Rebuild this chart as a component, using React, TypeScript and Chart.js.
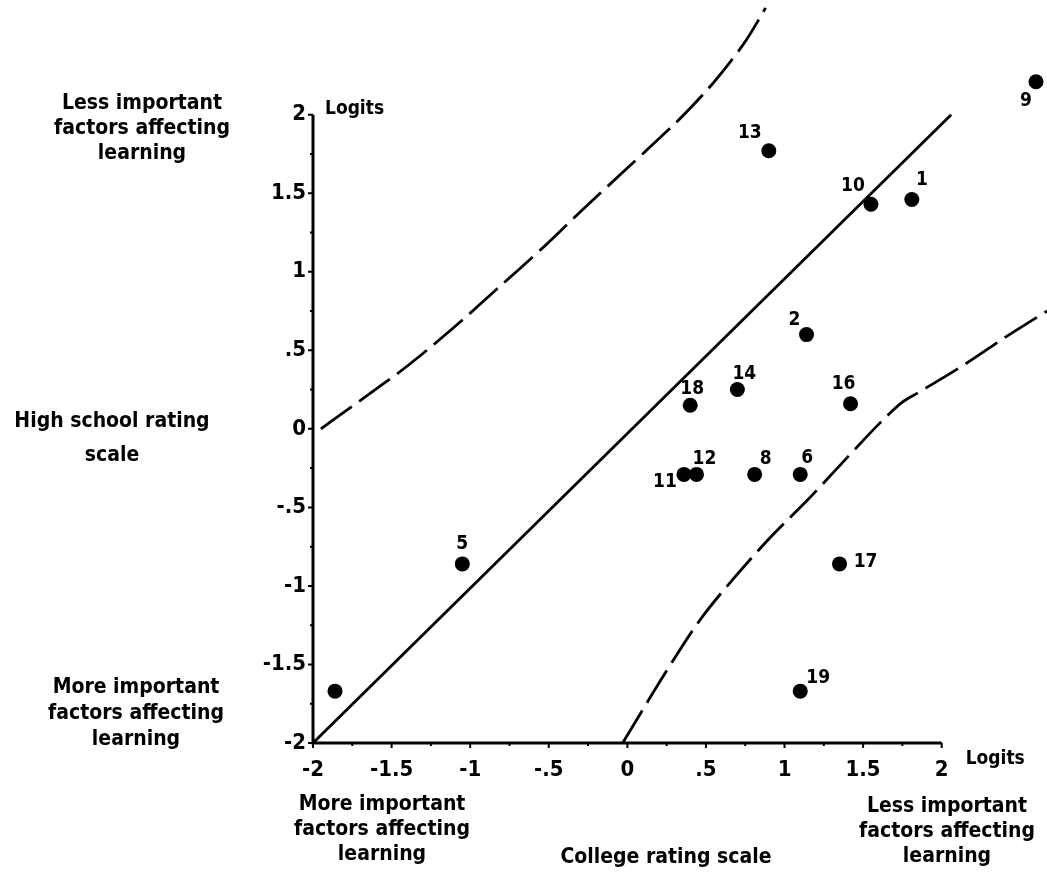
import React, { useEffect, useRef } from "react";
import { Chart, registerables } from "chart.js";

Chart.register(...registerables);

// Item numbers and their rating positions (logits)
const itemLabels = ["1", "2", "5", "6", "8", "9", "10", "11", "12", "13", "14", "16", "17", "18", "19", ""];
const collegeLogits = [1.81, 1.14, -1.05, 1.10, 0.81, 2.60, 1.55, 0.36, 0.44, 0.90, 0.70, 1.42, 1.35, 0.40, 1.10, -1.86];
const highSchoolLogits = [1.46, 0.60, -0.86, -0.29, -0.29, 2.21, 1.43, -0.29, -0.29, 1.77, 0.25, 0.16, -0.86, 0.15, -1.67, -1.67];

// Identity line
const identityX = [-2, 2.06];
const identityY = [-2, 2.0];

// Upper control band (dashed)
const upperBandX = [-1.95, -1.70, -1.40, -1.11, -0.83, -0.53, -0.28, 0.0, 0.32, 0.51, 0.65, 0.76, 0.88];
const upperBandY = [0.0, 0.18, 0.40, 0.64, 0.89, 1.16, 1.40, 1.66, 1.96, 2.16, 2.33, 2.48, 2.68];

// Lower control band (dashed)
const lowerBandX = [-0.03, 0.25, 0.46, 0.67, 0.93, 1.14, 1.42, 1.60, 1.75, 1.85, 2.13, 2.40, 2.67];
const lowerBandY = [-2.0, -1.54, -1.22, -0.96, -0.67, -0.46, -0.16, 0.03, 0.17, 0.23, 0.40, 0.58, 0.75];

// Tick values
const tickValues = [-2, -1.5, -1, -0.5, 0, 0.5, 1, 1.5, 2];
const minorTickValues = [-1.75, -1.25, -0.75, -0.25, 0.25, 0.75, 1.25, 1.75];

// Label offsets (pixels) for item numbers
const labelOffsets: Record<string, [number, number]> = {
  "1": [10, -19],
  "2": [-12, -15],
  "5": [0, -20],
  "6": [7, -16],
  "8": [11, -15],
  "9": [-10, 19],
  "10": [-18, -18],
  "11": [-19, 8],
  "12": [8, -15],
  "13": [-19, -18],
  "14": [7, -16],
  "16": [-7, -20],
  "17": [26, -2],
  "18": [2, -16],
  "19": [18, -13],
};

const FONT = '"DejaVu Sans Condensed", "DejaVu Sans", sans-serif';

function fmtTick(v: number): string {
  if (v === 0) return "0";
  const a = Math.abs(v);
  const s = a < 1 ? String(a).replace(/^0/, "") : String(a);
  return (v < 0 ? "-" : "") + s;
}

const zip = (xs: number[], ys: number[]) => xs.map((x, i) => ({ x, y: ys[i] }));

const overlayPlugin = {
  id: "overlay",
  afterDraw(chart: any) {
    const ctx = chart.ctx as CanvasRenderingContext2D;
    const xs = chart.scales.x;
    const ys = chart.scales.y;
    const x0 = xs.getPixelForValue(-2);
    const x1 = xs.getPixelForValue(2);
    const y0 = ys.getPixelForValue(-2);
    const y1 = ys.getPixelForValue(2);
    ctx.save();
    ctx.strokeStyle = "#000";
    ctx.fillStyle = "#000";
    ctx.lineWidth = 3;
    ctx.beginPath();
    ctx.moveTo(x0, y1);
    ctx.lineTo(x0, y0);
    ctx.lineTo(x1, y0);
    ctx.stroke();
    ctx.lineWidth = 2;
    ctx.beginPath();
    tickValues.forEach((v) => {
      const py = ys.getPixelForValue(v);
      ctx.moveTo(x0 - 5, py);
      ctx.lineTo(x0, py);
      const px = xs.getPixelForValue(v);
      ctx.moveTo(px, y0);
      ctx.lineTo(px, y0 + 5);
    });
    minorTickValues.forEach((v) => {
      const py = ys.getPixelForValue(v);
      ctx.moveTo(x0 - 3, py);
      ctx.lineTo(x0, py);
      const px = xs.getPixelForValue(v);
      ctx.moveTo(px, y0);
      ctx.lineTo(px, y0 + 3);
    });
    ctx.stroke();

    ctx.font = `bold 22px ${FONT}`;
    ctx.textBaseline = "middle";
    ctx.textAlign = "right";
    tickValues.forEach((v) => {
      ctx.fillText(fmtTick(v), x0 - 7, ys.getPixelForValue(v));
    });
    ctx.textAlign = "center";
    tickValues.forEach((v) => {
      ctx.fillText(fmtTick(v), xs.getPixelForValue(v), y0 + 27);
    });

    ctx.font = `bold 19px ${FONT}`;
    ctx.textAlign = "left";
    ctx.fillText("Logits", x0 + 12, y1 - 6);
    ctx.fillText("Logits", x1 + 24, y0 + 16);

    // Side descriptions
    ctx.font = `bold 21px ${FONT}`;
    ctx.textAlign = "center";
    const block = (lines: string[], cx: number, cy0: number, lh: number) => {
      lines.forEach((t, i) => ctx.fillText(t, cx, cy0 + i * lh));
    };
    block(["Less important", "factors affecting", "learning"], 142, 104, 25);
    block(["High school rating", "scale"], 112, 422, 34);
    block(["More important", "factors affecting", "learning"], 136, 688, 26);
    block(["More important", "factors affecting", "learning"], 382, 805, 25);
    block(["College rating scale"], 666, 858, 25);
    block(["Less important", "factors affecting", "learning"], 947, 807, 25);

    // Item labels
    ctx.font = `bold 19px ${FONT}`;
    const meta = chart.getDatasetMeta(3);
    meta.data.forEach((el: any, i: number) => {
      const lbl = itemLabels[i];
      if (!lbl) return;
      const off = labelOffsets[lbl] || [0, -16];
      ctx.fillText(lbl, el.x + off[0], el.y + off[1]);
    });
    ctx.restore();
  },
};

export default function App() {
  const ref = useRef<HTMLCanvasElement | null>(null);
  useEffect(() => {
    if (!ref.current) return;
    const chart = new Chart(ref.current, {
      type: "scatter",
      data: {
        datasets: [
          {
            data: zip(identityX, identityY),
            showLine: true,
            borderColor: "#000",
            borderWidth: 2.8,
            pointRadius: 0,
          },
          {
            data: zip(upperBandX, upperBandY),
            showLine: true,
            borderColor: "#000",
            borderWidth: 2.8,
            borderDash: [38, 9],
            tension: 0.3,
            pointRadius: 0,
          },
          {
            data: zip(lowerBandX, lowerBandY),
            showLine: true,
            borderColor: "#000",
            borderWidth: 2.8,
            borderDash: [38, 9],
            cubicInterpolationMode: "monotone",
            pointRadius: 0,
          },
          {
            data: zip(collegeLogits, highSchoolLogits),
            backgroundColor: "#000",
            borderColor: "#000",
            pointRadius: 7.5,
            borderWidth: 0,
          },
        ],
      },
      options: {
        responsive: false,
        animation: false,
        layout: { autoPadding: false, padding: { left: 313, right: 0, top: 0, bottom: 140 } },
        plugins: { legend: { display: false }, tooltip: { enabled: false } },
        scales: {
          x: { type: "linear", min: -2, max: 2.67, display: false },
          y: { type: "linear", min: -2, max: 2.73, display: false },
        },
      },
      plugins: [overlayPlugin],
    });
    return () => chart.destroy();
  }, []);
  return (
    <div style={{ position: "fixed", left: 0, top: 0, width: 1047, height: 883, background: "#fff" }}>
      <canvas ref={ref} width={1047} height={883} style={{ display: "block" }} />
    </div>
  );
}
